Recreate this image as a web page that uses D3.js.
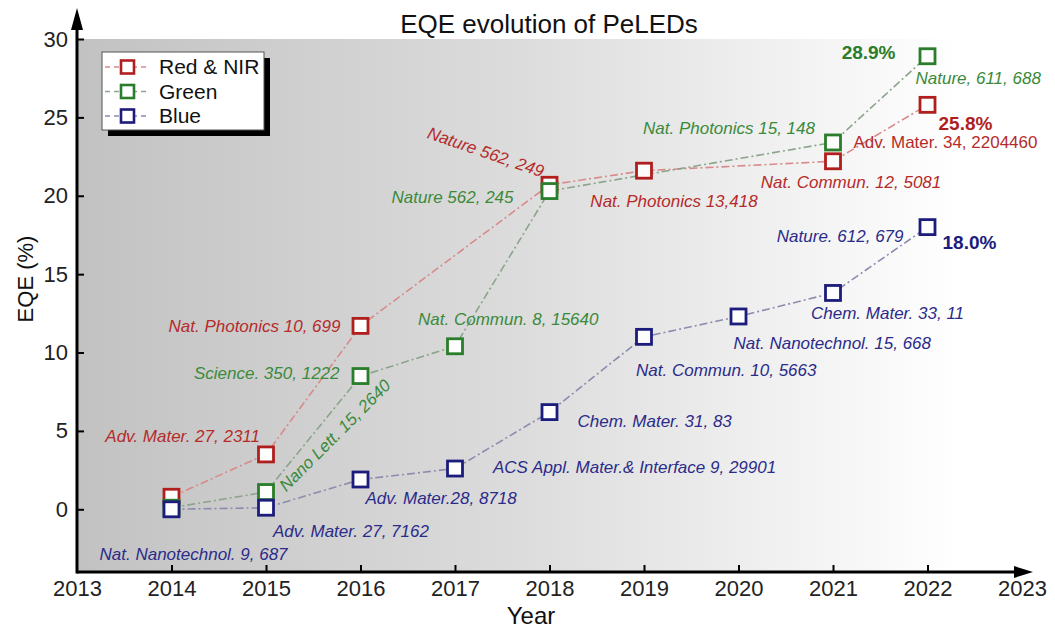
<!doctype html>
<html>
<head>
<meta charset="utf-8">
<script src="https://cdnjs.cloudflare.com/ajax/libs/d3/7.8.5/d3.min.js"></script>
<style>
body { margin: 0; background: #fff; }
svg { font-family: "Liberation Sans", Arial, sans-serif; display: block; }
.ref { font-size: 17px; font-style: italic; }
.tick text { font-size: 22px; fill: #222; }
</style>
</head>
<body>
<script>
// data
var yearTicks = [2013, 2014, 2015, 2016, 2017, 2018, 2019, 2020, 2021, 2022, 2023];
var eqeTicks = [0, 5, 10, 15, 20, 25, 30];

var redYears = [2014, 2015, 2016, 2018, 2019, 2021, 2022];
var redEQE = [0.8, 3.5, 11.7, 20.7, 21.6, 22.2, 25.8];
var redRefs = ["", "Adv. Mater. 27, 2311", "Nat. Photonics 10, 699", "Nature 562, 249",
  "Nat. Photonics 13,418", "Nat. Commun. 12, 5081", "Adv. Mater. 34, 2204460"];

var greenYears = [2014, 2015, 2016, 2017, 2018, 2021, 2022];
var greenEQE = [0.1, 1.1, 8.5, 10.4, 20.3, 23.4, 28.9];
var greenRefs = ["", "Nano Lett. 15, 2640", "Science. 350, 1222", "Nat. Commun. 8, 15640",
  "Nature 562, 245", "Nat. Photonics 15, 148", "Nature, 611, 688"];

var blueYears = [2014, 2015, 2016, 2017, 2018, 2019, 2020, 2021, 2022];
var blueEQE = [0.0, 0.1, 1.9, 2.6, 6.2, 11.0, 12.3, 13.8, 18.0];
var blueRefs = ["Nat. Nanotechnol. 9, 687", "Adv. Mater. 27, 7162", "Adv. Mater.28, 8718",
  "ACS Appl. Mater.& Interface 9, 29901", "Chem. Mater. 31, 83", "Nat. Commun. 10, 5663",
  "Nat. Nanotechnol. 15, 668", "Chem. Mater. 33, 11", "Nature. 612, 679"];

// label placement: [dx, dy, anchor, rotate, italic]
var redPos = [null, [-6, -18, "end", 0], [-20, 0, "end", 0], [-6, -13, "end", 19],
  [30, 30, "middle", 0], [18, 21, "middle", 0], [-74, 37, "start", 0, false]];
var greenPos = [null, [16, -4, "start", -45], [-21, -3, "end", 0], [-37, -27, "start", 0],
  [-36, 6, "end", 0], [-18, -14, "end", 0], [-12, 22, "start", 0]];
var bluePos = [[-72, 45, "start", 0], [7, 23, "start", 0], [5, 19, "start", 0],
  [38, -1, "start", 0], [28, 9, "start", 0], [-8, 33, "start", 0],
  [-5, 27, "start", 0], [-22, 20, "start", 0], [-24, 9, "end", 0]];

var series = [
  {name: "Red & NIR", years: redYears, eqe: redEQE, refs: redRefs, pos: redPos,
   mark: "#b01e1e", line: "#d88a8a", text: "#b52b2b", rec: [11, 19, "start"]},
  {name: "Green", years: greenYears, eqe: greenEQE, refs: greenRefs, pos: greenPos,
   mark: "#2a7d2a", line: "#8aa58a", text: "#3b8a3b", rec: [-32, -4, "end"]},
  {name: "Blue", years: blueYears, eqe: blueEQE, refs: blueRefs, pos: bluePos,
   mark: "#1c1c7c", line: "#8c8cae", text: "#2b2b8a", rec: [15, 15, "start"]}
];

var W = 1055, H = 631;
var x = d3.scaleLinear().domain([2013, 2023]).range([77, 1022]);
var y = d3.scaleLinear().domain([-4, 30]).range([572, 39]);

var svg = d3.select("body").append("svg").attr("width", W).attr("height", H);

// gray gradient background
var grad = svg.append("defs").append("linearGradient").attr("id", "bg")
  .attr("gradientUnits", "userSpaceOnUse")
  .attr("x1", x(2013)).attr("x2", 960).attr("y1", 0).attr("y2", 0);
grad.append("stop").attr("offset", 0).attr("stop-color", "#c2c2c2");
grad.append("stop").attr("offset", 0.5).attr("stop-color", "#dcdcdc");
grad.append("stop").attr("offset", 1).attr("stop-color", "#ffffff");
svg.append("rect").attr("x", x(2013)).attr("y", y(30))
  .attr("width", 1032 - x(2013)).attr("height", y(-4) - y(30))
  .attr("fill", "url(#bg)");

// title
svg.append("text").attr("x", 549).attr("y", 33).attr("text-anchor", "middle")
  .attr("font-size", 26).attr("fill", "#111").text("EQE evolution of PeLEDs");

// axes
var xAxis = svg.append("g").attr("transform", "translate(0," + y(-4) + ")")
  .call(d3.axisBottom(x).tickValues(yearTicks).tickFormat(d3.format("d"))
    .tickSize(-7).tickPadding(8));
xAxis.select(".domain").remove();
xAxis.selectAll(".tick line").attr("stroke-width", 2)
  .filter(function(d) { return d == 2013 || d == 2023; }).remove();

var yAxis = svg.append("g").attr("transform", "translate(" + x(2013) + ",0)")
  .call(d3.axisLeft(y).tickValues(eqeTicks).tickSize(-7).tickPadding(9));
yAxis.select(".domain").remove();
yAxis.selectAll(".tick line").attr("stroke-width", 2);

svg.append("line").attr("x1", x(2013)).attr("x2", 1020)
  .attr("y1", y(-4)).attr("y2", y(-4)).attr("stroke", "#000").attr("stroke-width", 3);
svg.append("path").attr("d", "M1033," + y(-4) + "L1014," + (y(-4) - 6) + "L1014," + (y(-4) + 6) + "Z");
svg.append("line").attr("x1", x(2013)).attr("x2", x(2013))
  .attr("y1", y(-4) + 1.5).attr("y2", 24).attr("stroke", "#000").attr("stroke-width", 3);
svg.append("path").attr("d", "M" + x(2013) + ",8L" + (x(2013) - 6) + ",30L" + (x(2013) + 6) + ",30Z");

svg.append("text").attr("x", 531).attr("y", 624).attr("text-anchor", "middle")
  .attr("font-size", 24).attr("fill", "#111").text("Year");
svg.append("text").attr("transform", "translate(33,279) rotate(-90)")
  .attr("text-anchor", "middle").attr("font-size", 22).attr("fill", "#111").text("EQE (%)");

var line = d3.line().x(function(d) { return x(d[0]); }).y(function(d) { return y(d[1]); });

series.forEach(function(s) {
  s.pts = s.years.map(function(yr, i) { return [yr, s.eqe[i]]; });
  svg.append("path").attr("d", line(s.pts)).attr("fill", "none")
    .attr("stroke", s.line).attr("stroke-width", 1.6).attr("stroke-dasharray", "8,3,2,3");
});

series.forEach(function(s) {
  svg.append("g").selectAll("rect").data(s.pts).enter().append("rect")
    .attr("x", function(d) { return x(d[0]) - 7.5; })
    .attr("y", function(d) { return y(d[1]) - 7.5; })
    .attr("width", 15).attr("height", 15)
    .attr("fill", "#fdfdfd").attr("stroke", s.mark).attr("stroke-width", 2.8);
});

series.forEach(function(s) {
  s.pts.forEach(function(d, i) {
    var p = s.pos[i];
    if (!p || !s.refs[i]) return;
    var px = x(d[0]) + p[0], py = y(d[1]) + p[1];
    svg.append("text").attr("class", "ref")
      .attr("transform", "translate(" + px + "," + py + ") rotate(" + p[3] + ")")
      .attr("dy", "0.35em").attr("text-anchor", p[2])
      .style("font-style", p[4] === false ? "normal" : "italic")
      .attr("fill", s.text).text(s.refs[i]);
  });
  // record value at the last point
  var last = s.pts[s.pts.length - 1];
  svg.append("text").attr("x", x(last[0]) + s.rec[0]).attr("y", y(last[1]) + s.rec[1])
    .attr("dy", "0.35em").attr("text-anchor", s.rec[2])
    .attr("font-size", 19).attr("font-weight", "bold").attr("fill", s.mark)
    .text(d3.format(".1f")(last[1]) + "%");
});

// legend
var lg = svg.append("g").attr("transform", "translate(102,52)");
lg.append("rect").attr("x", 6).attr("y", 6).attr("width", 162).attr("height", 78).attr("fill", "#000");
lg.append("rect").attr("width", 162).attr("height", 78).attr("fill", "#fff")
  .attr("stroke", "#555").attr("stroke-width", 1);
series.forEach(function(s, i) {
  var cy = 15 + i * 24.5;
  lg.append("line").attr("x1", 3).attr("x2", 48).attr("y1", cy).attr("y2", cy)
    .attr("stroke", s.line).attr("stroke-width", 1.6).attr("stroke-dasharray", "5,4");
  lg.append("rect").attr("x", 19).attr("y", cy - 6.5).attr("width", 13).attr("height", 13)
    .attr("fill", "#fff").attr("stroke", s.mark).attr("stroke-width", 2.6);
  lg.append("text").attr("x", 57).attr("y", cy).attr("dy", "0.35em")
    .attr("font-size", 21).attr("fill", "#111").text(s.name);
});
</script>
</body>
</html>
